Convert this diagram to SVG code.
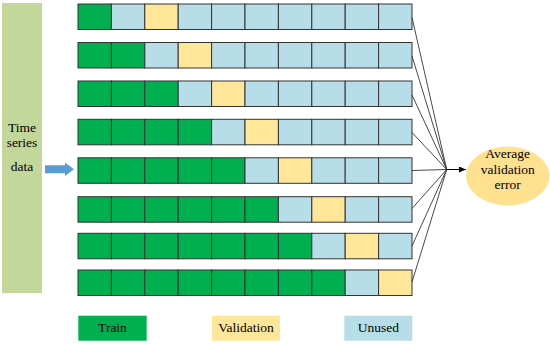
<svg xmlns="http://www.w3.org/2000/svg" width="550" height="344" viewBox="0 0 550 344">
<defs>
<style>
.t{fill:#00B050}
.u{fill:#B7DDE8}
.v{fill:#FFE699}
.c{stroke:#333;stroke-width:1}
.lbl{font-family:'Liberation Serif','Times New Roman',serif;font-size:13.5px;fill:#000;text-anchor:middle}
.ln{stroke:#333;stroke-width:0.9;fill:none}
</style>
<marker id="ah" markerWidth="8" markerHeight="6" refX="7" refY="3" orient="auto" markerUnits="userSpaceOnUse">
<path d="M0,0 L7,3 L0,6 Z" fill="#000"/>
</marker>
</defs>
<rect width="550" height="344" fill="#fff"/>

<g id="data">
<rect x="2" y="3" width="40" height="290" fill="#C4D79B"/>
<text class="lbl" x="22" y="131.5">Time</text>
<text class="lbl" x="22" y="146.5">series</text>
<text class="lbl" x="22" y="170.5">data</text>
</g>

<g id="input-arrow">
<path d="M45,165.3 L65,165.3 L65,162.5 L74,169.3 L65,176.1 L65,173.3 L45,173.3 Z" fill="#5B9BD5"/>
</g>

<g id="row1" class="c">
<rect class="t" x="78" y="4" width="33.4" height="25.5"/>
<rect class="u" x="111.4" y="4" width="33.4" height="25.5"/>
<rect class="v" x="144.8" y="4" width="33.4" height="25.5"/>
<rect class="u" x="178.2" y="4" width="33.4" height="25.5"/>
<rect class="u" x="211.6" y="4" width="33.4" height="25.5"/>
<rect class="u" x="245" y="4" width="33.4" height="25.5"/>
<rect class="u" x="278.4" y="4" width="33.4" height="25.5"/>
<rect class="u" x="311.8" y="4" width="33.4" height="25.5"/>
<rect class="u" x="345.2" y="4" width="33.4" height="25.5"/>
<rect class="u" x="378.6" y="4" width="33.4" height="25.5"/>
</g>
<g id="row2" class="c">
<rect class="t" x="78" y="42.5" width="33.4" height="25.5"/>
<rect class="t" x="111.4" y="42.5" width="33.4" height="25.5"/>
<rect class="u" x="144.8" y="42.5" width="33.4" height="25.5"/>
<rect class="v" x="178.2" y="42.5" width="33.4" height="25.5"/>
<rect class="u" x="211.6" y="42.5" width="33.4" height="25.5"/>
<rect class="u" x="245" y="42.5" width="33.4" height="25.5"/>
<rect class="u" x="278.4" y="42.5" width="33.4" height="25.5"/>
<rect class="u" x="311.8" y="42.5" width="33.4" height="25.5"/>
<rect class="u" x="345.2" y="42.5" width="33.4" height="25.5"/>
<rect class="u" x="378.6" y="42.5" width="33.4" height="25.5"/>
</g>
<g id="row3" class="c">
<rect class="t" x="78" y="81" width="33.4" height="25.5"/>
<rect class="t" x="111.4" y="81" width="33.4" height="25.5"/>
<rect class="t" x="144.8" y="81" width="33.4" height="25.5"/>
<rect class="u" x="178.2" y="81" width="33.4" height="25.5"/>
<rect class="v" x="211.6" y="81" width="33.4" height="25.5"/>
<rect class="u" x="245" y="81" width="33.4" height="25.5"/>
<rect class="u" x="278.4" y="81" width="33.4" height="25.5"/>
<rect class="u" x="311.8" y="81" width="33.4" height="25.5"/>
<rect class="u" x="345.2" y="81" width="33.4" height="25.5"/>
<rect class="u" x="378.6" y="81" width="33.4" height="25.5"/>
</g>
<g id="row4" class="c">
<rect class="t" x="78" y="119.3" width="33.4" height="25.5"/>
<rect class="t" x="111.4" y="119.3" width="33.4" height="25.5"/>
<rect class="t" x="144.8" y="119.3" width="33.4" height="25.5"/>
<rect class="t" x="178.2" y="119.3" width="33.4" height="25.5"/>
<rect class="u" x="211.6" y="119.3" width="33.4" height="25.5"/>
<rect class="v" x="245" y="119.3" width="33.4" height="25.5"/>
<rect class="u" x="278.4" y="119.3" width="33.4" height="25.5"/>
<rect class="u" x="311.8" y="119.3" width="33.4" height="25.5"/>
<rect class="u" x="345.2" y="119.3" width="33.4" height="25.5"/>
<rect class="u" x="378.6" y="119.3" width="33.4" height="25.5"/>
</g>
<g id="row5" class="c">
<rect class="t" x="78" y="157.8" width="33.4" height="25.5"/>
<rect class="t" x="111.4" y="157.8" width="33.4" height="25.5"/>
<rect class="t" x="144.8" y="157.8" width="33.4" height="25.5"/>
<rect class="t" x="178.2" y="157.8" width="33.4" height="25.5"/>
<rect class="t" x="211.6" y="157.8" width="33.4" height="25.5"/>
<rect class="u" x="245" y="157.8" width="33.4" height="25.5"/>
<rect class="v" x="278.4" y="157.8" width="33.4" height="25.5"/>
<rect class="u" x="311.8" y="157.8" width="33.4" height="25.5"/>
<rect class="u" x="345.2" y="157.8" width="33.4" height="25.5"/>
<rect class="u" x="378.6" y="157.8" width="33.4" height="25.5"/>
</g>
<g id="row6" class="c">
<rect class="t" x="78" y="196.7" width="33.4" height="25.5"/>
<rect class="t" x="111.4" y="196.7" width="33.4" height="25.5"/>
<rect class="t" x="144.8" y="196.7" width="33.4" height="25.5"/>
<rect class="t" x="178.2" y="196.7" width="33.4" height="25.5"/>
<rect class="t" x="211.6" y="196.7" width="33.4" height="25.5"/>
<rect class="t" x="245" y="196.7" width="33.4" height="25.5"/>
<rect class="u" x="278.4" y="196.7" width="33.4" height="25.5"/>
<rect class="v" x="311.8" y="196.7" width="33.4" height="25.5"/>
<rect class="u" x="345.2" y="196.7" width="33.4" height="25.5"/>
<rect class="u" x="378.6" y="196.7" width="33.4" height="25.5"/>
</g>
<g id="row7" class="c">
<rect class="t" x="78" y="233.3" width="33.4" height="25.5"/>
<rect class="t" x="111.4" y="233.3" width="33.4" height="25.5"/>
<rect class="t" x="144.8" y="233.3" width="33.4" height="25.5"/>
<rect class="t" x="178.2" y="233.3" width="33.4" height="25.5"/>
<rect class="t" x="211.6" y="233.3" width="33.4" height="25.5"/>
<rect class="t" x="245" y="233.3" width="33.4" height="25.5"/>
<rect class="t" x="278.4" y="233.3" width="33.4" height="25.5"/>
<rect class="u" x="311.8" y="233.3" width="33.4" height="25.5"/>
<rect class="v" x="345.2" y="233.3" width="33.4" height="25.5"/>
<rect class="u" x="378.6" y="233.3" width="33.4" height="25.5"/>
</g>
<g id="row8" class="c">
<rect class="t" x="78" y="270" width="33.4" height="25.5"/>
<rect class="t" x="111.4" y="270" width="33.4" height="25.5"/>
<rect class="t" x="144.8" y="270" width="33.4" height="25.5"/>
<rect class="t" x="178.2" y="270" width="33.4" height="25.5"/>
<rect class="t" x="211.6" y="270" width="33.4" height="25.5"/>
<rect class="t" x="245" y="270" width="33.4" height="25.5"/>
<rect class="t" x="278.4" y="270" width="33.4" height="25.5"/>
<rect class="t" x="311.8" y="270" width="33.4" height="25.5"/>
<rect class="u" x="345.2" y="270" width="33.4" height="25.5"/>
<rect class="v" x="378.6" y="270" width="33.4" height="25.5"/>
</g>

<g id="connectors">
<line class="ln" x1="412" y1="17.5" x2="446.7" y2="169.5"/>
<line class="ln" x1="412" y1="56" x2="446.7" y2="169.5"/>
<line class="ln" x1="412" y1="95" x2="446.7" y2="169.5"/>
<line class="ln" x1="412" y1="132.5" x2="446.7" y2="169.5"/>
<line class="ln" x1="412" y1="170.5" x2="446.7" y2="169.5"/>
<line class="ln" x1="412" y1="208.5" x2="446.7" y2="169.5"/>
<line class="ln" x1="412" y1="246" x2="446.7" y2="169.5"/>
<line class="ln" x1="412" y1="282" x2="446.7" y2="169.5"/>
<line x1="446.7" y1="169.5" x2="466" y2="169.5" stroke="#000" stroke-width="1" marker-end="url(#ah)"/>
</g>

<g id="result">
<ellipse cx="507.7" cy="176" rx="41.7" ry="29.5" fill="#FFE18F"/>
<text class="lbl" x="507.7" y="158">Average</text>
<text class="lbl" x="507.7" y="174">validation</text>
<text class="lbl" x="507.7" y="189">error</text>
</g>

<g id="legend-train">
<rect class="t" x="78.3" y="315.7" width="68.4" height="25"/>
<text class="lbl" x="112.5" y="332">Train</text>
</g>
<g id="legend-validation">
<rect class="v" x="212" y="315.7" width="68" height="25"/>
<text class="lbl" x="246" y="332">Validation</text>
</g>
<g id="legend-unused">
<rect class="u" x="344.3" y="315.7" width="68" height="25"/>
<text class="lbl" x="378.3" y="332">Unused</text>
</g>
</svg>
